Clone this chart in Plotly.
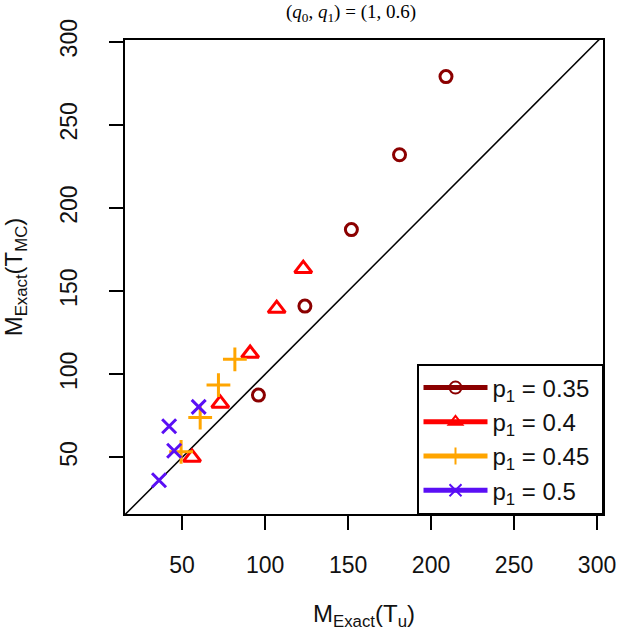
import plotly.graph_objects as go

# p1 = 0.35
x035 = [96, 124, 152, 181, 209]
y035 = [87.5, 141, 187, 232, 279]
# p1 = 0.4
x040 = [56, 73, 91, 107, 123]
y040 = [50, 82.5, 112.5, 139.5, 163.5]
# p1 = 0.45
x045 = [49.4, 60.9, 71.9, 81.8]
y045 = [53.4, 74, 93.5, 109]
# p1 = 0.5
x050 = [36.1, 45.2, 42.2, 60]
y050 = [36.3, 54, 68.8, 80.4]

labels = ["p<sub>1</sub> = 0.35", "p<sub>1</sub> = 0.4", "p<sub>1</sub> = 0.45", "p<sub>1</sub> = 0.5"]
colors = ["#8B0000", "#FF0000", "#FFA500", "#5A0FF5"]
symbols = ["circle-open", "triangle-up-open", "cross-thin-open", "x-thin-open"]
sizes = [12, 15, 17, 14]
tick_vals = [50, 100, 150, 200, 250, 300]

xr = [15.6, 303.6]
yr = [16, 301]

fig = go.Figure()
series = [(x035, y035), (x040, y040), (x045, y045), (x050, y050)]
for (xs, ys), lab, col, sym, sz in zip(series, labels, colors, symbols, sizes):
    fig.add_trace(go.Scatter(x=xs, y=ys, mode="markers", showlegend=False,
                             marker=dict(symbol=sym, size=sz, color=col,
                                         line=dict(color=col, width=3))))
for lab, col, sym, sz in zip(labels, colors, symbols, sizes):
    fig.add_trace(go.Scatter(x=[None], y=[None], mode="lines+markers",
                             name=lab + "&nbsp;",
                             line=dict(color=col, width=3),
                             marker=dict(symbol=sym, size=sz, color=col,
                                         line=dict(color=col, width=3))))

# y = x reference line
fig.add_shape(type="line", x0=0, y0=0, x1=320, y1=320, xref="x", yref="y",
              line=dict(color="black", width=1.5), layer="below")

axis_common = dict(showgrid=False, zeroline=False, showline=True, linecolor="black",
                   linewidth=1.5, mirror=True, ticks="outside", ticklen=14,
                   tickwidth=1.5, tickcolor="black", tickvals=tick_vals, automargin=False,
                   tickfont=dict(family="Liberation Sans, Arial", size=23, color="#111"))

W, H = 619, 631
fig.update_layout(
    width=W, height=H,
    margin=dict(l=125, r=16, t=40, b=117),
    plot_bgcolor="white", paper_bgcolor="white",
    title=dict(text="(<i>q</i><sub>0</sub>, <i>q</i><sub>1</sub>) = (1, 0.6)",
               x=351 / W, xanchor="center", y=1 - 11 / H, yanchor="middle",
               font=dict(family="Liberation Serif, serif", size=19, color="black")),
    xaxis=dict(range=xr, title=dict(text="M<sub>Exact</sub>(T<sub>u</sub>)", standoff=35,
                                   font=dict(family="Liberation Sans, Arial", size=24, color="#111")),
               ticklabelstandoff=16, **axis_common),
    yaxis=dict(range=yr, tickangle=-90,
               title=dict(text="M<sub>Exact</sub>(T<sub>MC</sub>)", standoff=35,
                          font=dict(family="Liberation Sans, Arial", size=24, color="#111")),
               ticklabelstandoff=23, **axis_common),
    legend=dict(x=1, y=0, xanchor="right", yanchor="bottom",
                bgcolor="white", bordercolor="black", borderwidth=1.5,
                font=dict(family="Liberation Sans, Arial", size=24, color="#111"),
                tracegroupgap=0, itemsizing="constant", itemwidth=64),
)

fig.write_html("out.html", config={"displayModeBar": False},
               post_script="document.body.style.margin='0';")
